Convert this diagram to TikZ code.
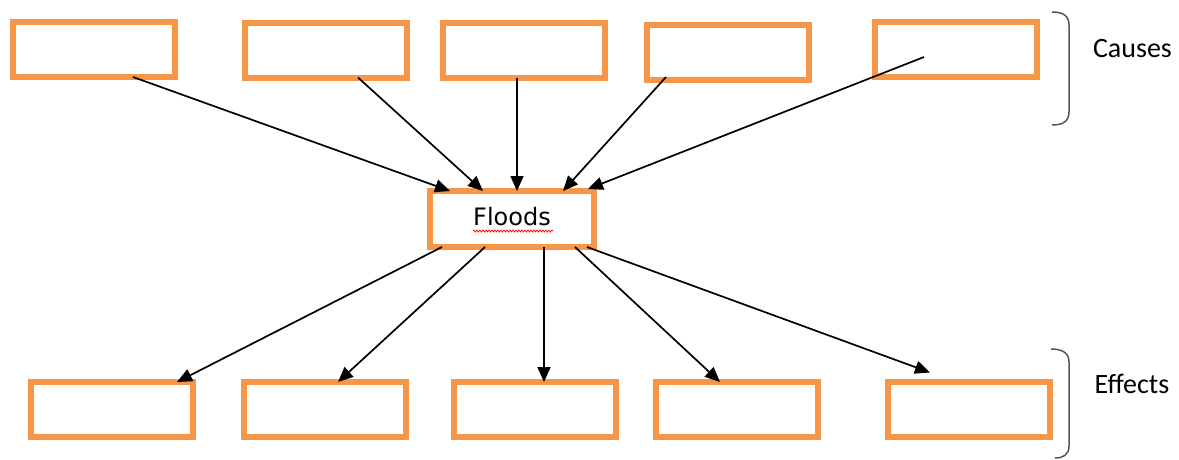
\documentclass[tikz,border=0pt]{standalone}
\usepackage{fontspec}
\setmainfont{DejaVu Sans}
\newfontfamily\calib{Carlito}
\usetikzlibrary{arrows.meta,calc,decorations.pathmorphing}
\definecolor{boxorange}{RGB}{247,150,70}
\definecolor{bracegray}{RGB}{85,85,85}
\begin{document}
\begin{tikzpicture}[x=1pt,y=-1pt,
  box/.style={draw=boxorange,line width=6pt,minimum width=162pt,minimum height=55pt,inner sep=0pt,outer sep=0pt},
  arr/.style={line width=1.7pt,-{Triangle[length=15pt,width=13pt]}},
  brace/.style={draw=bracegray,line width=1.5pt},
  lbl/.style={font=\calib\fontsize{28}{32}\selectfont,anchor=base,inner sep=0pt}]
\useasboundingbox (0,0) rectangle (1179,459);
% cause boxes
\node[box] (t1) at (94,49.5) {};
\node[box] (t2) at (325.5,50) {};
\node[box] (t3) at (523.5,50) {};
\node[box] (t4) at (728,52.5) {};
\node[box] (t5) at (955.5,49.5) {};
% centre
\node[box,minimum width=164pt,minimum height=56pt,font=\fontsize{24}{28}\selectfont,text depth=6pt] (fl) at (512,219) {Floods};
% effect boxes
\node[box] (b1) at (111.5,409.5) {};
\node[box] (b2) at (325,409.5) {};
\node[box] (b3) at (534.5,409.5) {};
\node[box] (b4) at (737,409.5) {};
\node[box] (b5) at (969,409) {};
% arrows in
\draw[arr] ($(t1.south)+(39,0)$) -- ($(fl.north)+(-62,0)$);
\draw[arr] ($(t2.south)+(32.5,0)$) -- ($(fl.north)+(-29,0)$);
\draw[arr] ($(t3.south)+(-6.5,0)$) -- ($(fl.north)+(5,0)$);
\draw[arr] ($(t4.south)+(-62,-3)$) -- ($(fl.north)+(51,0)$);
\draw[arr] ($(t5.center)+(-31.5,7.5)$) -- ($(fl.north)+(76,-2)$);
% arrows out
\draw[arr] ($(fl.south)+(-70,0)$) -- ($(b1.north)+(65.5,0)$);
\draw[arr] ($(fl.south)+(-27,0)$) -- ($(b2.north)+(13,0)$);
\draw[arr] ($(fl.south)+(32,0)$) -- ($(b3.north)+(9.5,0)$);
\draw[arr] ($(fl.south)+(63,0)$) -- ($(b4.north)+(-17,0)$);
\draw[arr] ($(fl.south)+(75,0)$) -- ($(b5.north)+(-39,-9)$);
% spell-check squiggle
\draw[red,line width=0.7pt,decorate,decoration={snake,amplitude=1pt,segment length=3pt}] ($(fl.center)+(-39,12)$) -- ($(fl.center)+(41,12)$);
% braces
\draw[brace] (1052,12) .. controls (1062,12) and (1069,15) .. (1069,25) -- (1069,112) .. controls (1069,122) and (1062,125) .. (1052,125);
\draw[brace] (1051,349) .. controls (1061,349) and (1069,352) .. (1069,362) -- (1069,446) .. controls (1069,455) and (1063,458) .. (1055,458);
% labels
\node[lbl] (causes) at (1132.5,57) {Causes};
\node[lbl] (effects) at (1132,393) {Effects};
\end{tikzpicture}
\end{document}
